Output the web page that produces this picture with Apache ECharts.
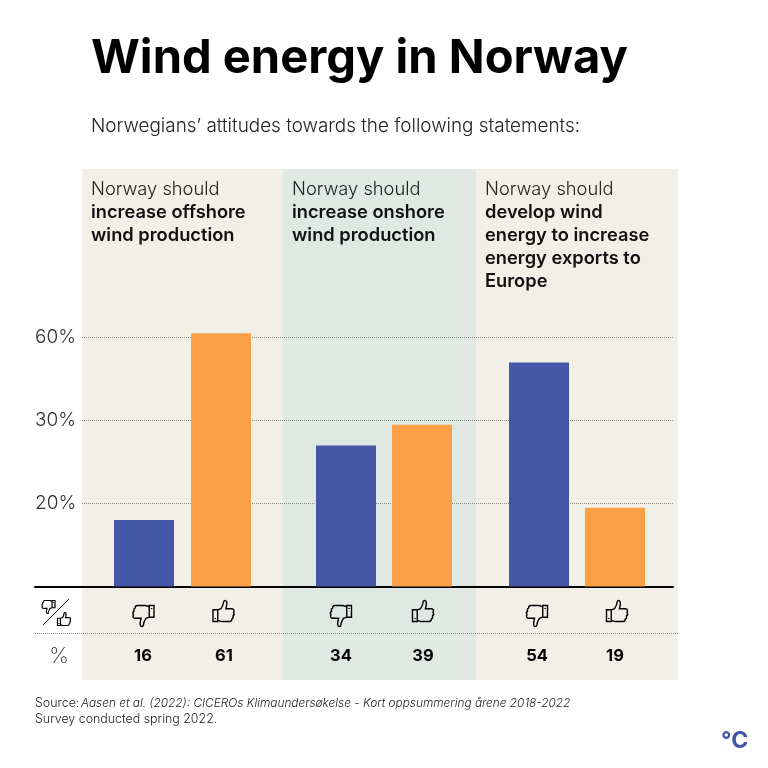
<!DOCTYPE html>
<html><head><meta charset="utf-8">
<style>html,body{margin:0;padding:0;background:#fff}#c{width:768px;height:768px}</style>
<script src="https://cdn.jsdelivr.net/npm/echarts@6/dist/echarts.min.js"></script>
</head><body><div id="c"></div>
<script>
const titleText = "Wind energy in Norway";
const subtitleText = "Norwegians’ attitudes towards the following statements:";
const statements = [
  ["Norway should", "increase offshore", "wind production"],
  ["Norway should", "increase onshore", "wind production"],
  ["Norway should", "develop wind", "energy to increase", "energy exports to", "Europe"]
];
const disagree = [16, 34, 54];
const agree = [61, 39, 19];
const tickLabels = { 20: "20%", 40: "30%", 60: "60%" };
const gridValues = [20, 40, 60];

// layout (x scale runs in page pixels)
const disagreeX = [144, 346, 539];
const agreeX = [221, 422, 615];
const rowDownX = [143.5, 341, 537];
const rowUpX = [223.5, 423, 617];
const rowNumDownX = [143, 341, 537];
const rowNumUpX = [224, 423, 615];
const panelEdges = [82, 283, 476, 678];
const panelColors = ["#f2efe7", "#dfe8e2", "#f2efe7"];
const headingX = [91, 292, 485];

const SANS = "Inter, 'Noto Sans', sans-serif";
const BLUE = "#4357a6", ORANGE = "#fba047", INK = "#111", SOFT = "#333", DOT = "#8d8d85";

const thumbUp = "path://M6 10.5 L9.5 9.5 C11 7.5 12 5.5 12.2 3 C13 1 15.5 1.5 15.6 4 C15.6 6 15 8 14.6 9.5 L21 9.5 C23 9.5 23.6 11.5 22.6 12.8 C23.4 14 23 15.6 22 16.2 C22.4 17.6 21.8 18.8 20.8 19.2 C20.8 20.6 20 21.5 18.5 21.5 L10 21.5 C8.5 21.5 7.5 20.6 6 20.4 Z M1 10.5 L6 10.5 L6 21.5 L1 21.5 Z M3.5 18.2 L3.5 19.2";

const iconStyle = { color: "none", borderColor: "#000", borderWidth: 1.4, opacity: 1 };
const smallIconStyle = { color: "none", borderColor: "#000", borderWidth: 1.2, opacity: 1 };
const numberLabel = { show: true, position: "inside", fontFamily: SANS, fontSize: 16.5, fontWeight: 700, color: "#000", opacity: 1, formatter: p => String(p.value[2]) };
const hiddenDot = { color: "rgba(0,0,0,0)", opacity: 1 };

const chart = echarts.init(document.getElementById("c"));
chart.setOption({
  animation: false,
  backgroundColor: "#fff",
  title: [
    { text: titleText, left: 86, top: 30, textStyle: { fontFamily: SANS, fontSize: 47.1, fontWeight: 700, color: "#000" } },
    { text: subtitleText, left: 86, top: 112, textStyle: { fontFamily: SANS, fontSize: 18.9, fontWeight: 300, color: "#222" } }
  ],
  grid: [
    { left: 35, top: 171.5, width: 638, height: 415 },
    { left: 35, top: 587, width: 638, height: 93 }
  ],
  xAxis: [
    { type: "value", min: 35, max: 673, axisLine: { show: true, onZero: true, lineStyle: { color: "#000", width: 2 } }, axisTick: { show: false }, axisLabel: { show: false }, splitLine: { show: false } },
    { gridIndex: 1, type: "value", min: 35, max: 673, show: false }
  ],
  yAxis: [
    { type: "value", min: 0, max: 100, interval: 20, axisLine: { show: false }, axisTick: { show: false }, splitLine: { show: false },
      axisLabel: { inside: true, margin: 0, padding: [0, 0, 3, 0], fontFamily: SANS, fontWeight: 300, fontSize: 19, color: SOFT, formatter: v => tickLabels[v] || "" } },
    { gridIndex: 1, type: "value", min: 0, max: 93, inverse: true, show: false }
  ],
  series: [
    { name: "Disagree", type: "bar", barWidth: 60, barGap: "-100%", itemStyle: { color: BLUE }, data: disagree.map((v, i) => [disagreeX[i], v]),
      markLine: { silent: true, symbol: "none", label: { show: false }, z: 1, lineStyle: { type: "dotted", color: DOT, width: 1 },
        data: gridValues.map(v => [{ coord: [panelEdges[0], v] }, { coord: [673, v] }]) } },
    { name: "Agree", type: "bar", barWidth: 60, barGap: "-100%", itemStyle: { color: ORANGE }, data: agree.map((v, i) => [agreeX[i], v]) },
    { type: "scatter", xAxisIndex: 1, yAxisIndex: 1, symbol: thumbUp, symbolSize: 21, symbolRotate: 180, itemStyle: iconStyle, data: rowDownX.map(x => [x, 29]) },
    { type: "scatter", xAxisIndex: 1, yAxisIndex: 1, symbol: thumbUp, symbolSize: 21, itemStyle: iconStyle, data: rowUpX.map(x => [x, 24]) },
    { type: "scatter", xAxisIndex: 1, yAxisIndex: 1, symbol: "circle", symbolSize: 1, itemStyle: hiddenDot, label: numberLabel, data: disagree.map((v, i) => [rowNumDownX[i], 69, v]) },
    { type: "scatter", xAxisIndex: 1, yAxisIndex: 1, symbol: "circle", symbolSize: 1, itemStyle: hiddenDot, label: numberLabel, data: agree.map((v, i) => [rowNumUpX[i], 69, v]) },
    { type: "scatter", xAxisIndex: 1, yAxisIndex: 1, symbol: thumbUp, symbolSize: 13, symbolRotate: 180, itemStyle: smallIconStyle, data: [[48.5, 20]] },
    { type: "scatter", xAxisIndex: 1, yAxisIndex: 1, symbol: thumbUp, symbolSize: 13, itemStyle: smallIconStyle, data: [[64, 32]] }
  ]
});

const graphics = [];
const px = x => chart.convertToPixel({ xAxisIndex: 0 }, x);
function txt(x, y, text, font) {
  return { type: "text", x: x, y: y, z: 20, style: Object.assign({ text: text, fontFamily: SANS, fill: INK, textVerticalAlign: "middle" }, font) };
}
panelColors.forEach((c, i) => {
  const x0 = px(panelEdges[i]), x1 = i === 2 ? panelEdges[3] : px(panelEdges[i + 1]);
  graphics.push({ type: "rect", z: -10, shape: { x: x0, y: 169, width: x1 - x0, height: 511 }, style: { fill: c } });
});
statements.forEach((lines, i) => lines.forEach((line, j) => {
  graphics.push(txt(headingX[i], 189.5 + j * 23.1, line, { fontSize: 18.3, fontWeight: j === 0 ? 300 : 600, fill: j === 0 ? "#222" : "#111" }));
}));
graphics.push({ type: "line", z: 5, shape: { x1: 35, y1: 633.5, x2: 678, y2: 633.5 }, style: { stroke: DOT, lineWidth: 1, lineDash: [1, 1] } });
graphics.push({ type: "line", z: 20, shape: { x1: 69, y1: 599, x2: 43, y2: 625 }, style: { stroke: INK, lineWidth: 1 } });
graphics.push(txt(59, 656, "%", { fontSize: 22, fontWeight: 200, textAlign: "center", fill: SOFT }));
graphics.push(txt(35, 703, "Source:", { fontSize: 12.4, fontWeight: 300, fill: "#222" }));
graphics.push(txt(81, 703, "Aasen et al. (2022): CICEROs Klimaundersøkelse - Kort oppsummering årene 2018-2022", { fontSize: 11.85, fontWeight: 300, fontStyle: "italic", fill: "#222" }));
graphics.push(txt(35, 719, "Survey conducted spring 2022.", { fontSize: 12.4, fontWeight: 300, fill: "#222" }));
graphics.push(txt(721, 741, "°C", { fontSize: 23, fontWeight: 700, fill: BLUE }));
chart.setOption({ graphic: graphics });
</script></body></html>
